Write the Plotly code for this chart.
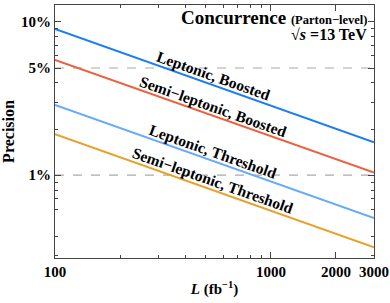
import numpy as np
import plotly.graph_objects as go

# Data
L = [100, 3000]
lep_boosted = [0.090, 0.0164]
semi_boosted = [0.0565, 0.0104]
lep_threshold = [0.0287, 0.00525]
semi_threshold = [0.0185, 0.00339]

series_names = ["Leptonic, Boosted", "Semi\u2212leptonic, Boosted",
                "Leptonic, Threshold", "Semi\u2212leptonic, Threshold"]
series_values = [lep_boosted, semi_boosted, lep_threshold, semi_threshold]
colors = ["rgb(25,125,245)", "rgb(238,95,60)", "rgb(100,170,255)", "rgb(232,160,40)"]

ref_levels = [0.05, 0.01]

x_tickvals = [100, 1000, 2000, 3000]
x_ticktext = ["100", "1000", "2000", "3000"]
y_tickvals = [0.1, 0.05, 0.01]
y_ticktext = ["10%", "5%", "1%"]

FONT = "Liberation Serif"

fig = go.Figure()
for name, vals, c in zip(series_names, series_values, colors):
    fig.add_trace(go.Scatter(x=L, y=vals, mode="lines", name=name,
                             line=dict(color=c, width=2), showlegend=False))

for lv in ref_levels:
    fig.add_shape(type="line", xref="paper", x0=0, x1=1, yref="y", y0=lv, y1=lv,
                  line=dict(color="rgb(170,170,170)", width=1.2, dash="dash"), layer="below")

# rotated labels along lines
label_L = 540
for name, vals in zip(series_names, series_values):
    lx0, lx1 = np.log10(L[0]), np.log10(L[1])
    ly0, ly1 = np.log10(vals[0]), np.log10(vals[1])
    lx = np.log10(label_L)
    ly = ly0 + (ly1 - ly0) * (lx - lx0) / (lx1 - lx0)
    fig.add_annotation(x=lx, y=ly, xref="x", yref="y", text="<b>%s</b>" % name,
                       showarrow=False, textangle=19.5, yshift=9.5,
                       font=dict(family=FONT, size=15.5, color="black"))

fig.add_annotation(xref="paper", yref="paper", x=0.985, y=1.0, xanchor="right", yanchor="top",
                   text="<b><span style='font-size:19px'>Concurrence</span> <span style='font-size:12.5px'>(Parton\u2212level)</span></b>",
                   showarrow=False, font=dict(family=FONT, size=19, color="black"))
fig.add_annotation(xref="paper", yref="paper", x=0.985, y=0.925, xanchor="right", yanchor="top",
                   text="<b>\u221a<i>s</i> =13 TeV</b>",
                   showarrow=False, font=dict(family=FONT, size=16, color="black"))

minor_x = [200, 300, 400, 500, 600, 700, 800, 900]
minor_y = [0.003, 0.004, 0.006, 0.007, 0.008, 0.009,
           0.02, 0.03, 0.04, 0.06, 0.07, 0.08, 0.09, 0.2]

axis_col = "#444"
fig.update_layout(
    width=390, height=303,
    margin=dict(l=55, r=16, t=5, b=45),
    plot_bgcolor="white", paper_bgcolor="white",
    font=dict(family=FONT, size=14, color="black"),
    xaxis=dict(type="log", range=[2, np.log10(3000)],
               tickvals=x_tickvals, ticktext=x_ticktext,
               tickfont=dict(family=FONT, size=15, color="black", weight="bold"),
               ticks="inside", ticklen=6, tickcolor=axis_col, mirror="allticks",
               showline=True, linecolor=axis_col, linewidth=1.2, showgrid=False, zeroline=False,
               minor=dict(tickvals=minor_x, ticks="inside", ticklen=3, tickcolor=axis_col, showgrid=False),
               automargin=False,
               title=dict(text="<b><i>L</i> (fb<sup>\u22121</sup>)</b>", standoff=4,
                          font=dict(family=FONT, size=15, color="black"))),
    yaxis=dict(type="log", range=[-2.54, -0.89],
               tickvals=y_tickvals, ticktext=y_ticktext,
               tickfont=dict(family=FONT, size=15, color="black", weight="bold"),
               ticks="inside", ticklen=6, tickcolor=axis_col, mirror="allticks",
               showline=True, linecolor=axis_col, linewidth=1.2, showgrid=False, zeroline=False,
               minor=dict(tickvals=minor_y, ticks="inside", ticklen=3, tickcolor=axis_col, showgrid=False),
               automargin=False,
               title=dict(text="<b>Precision</b>", standoff=6,
                          font=dict(family=FONT, size=16, color="black"))),
)

fig.write_html("out.html", config={"displayModeBar": False},
               post_script="document.body.style.margin='0';")
